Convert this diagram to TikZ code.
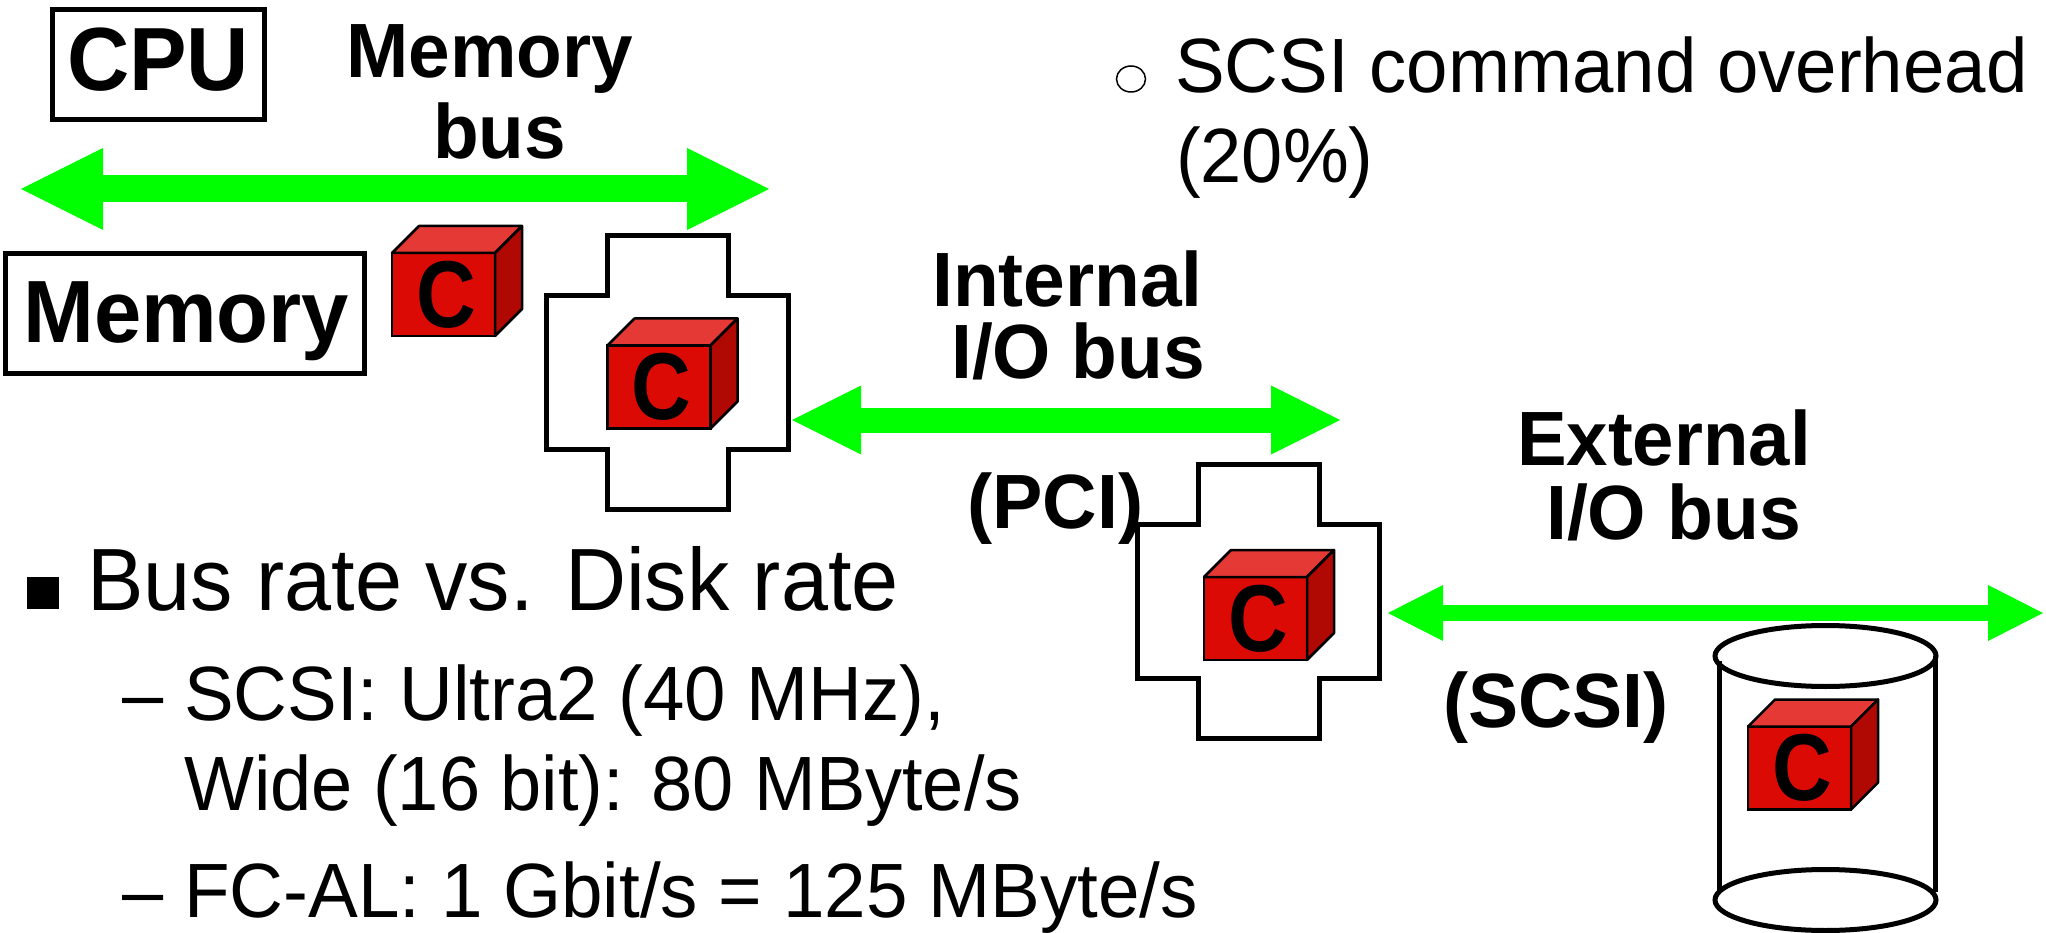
\documentclass[tikz,border=0pt]{standalone}
\usepackage{fontspec}
\setmainfont{Liberation Sans}[Kerning=Off]
\usetikzlibrary{positioning}
\usetikzlibrary{shapes.geometric}
\usetikzlibrary{arrows.meta}
\usetikzlibrary{calc}

\definecolor{cubeFront}{HTML}{DC0A05}
\definecolor{cubeTop}{HTML}{E53935}
\definecolor{cubeSide}{HTML}{B00803}
\definecolor{busGreen}{HTML}{00FF00}

\newcommand{\tall}[2][1]{\scalebox{#1}[1.04]{#2}}
\newcommand{\cubeletter}[1]{\hspace{5pt}\scalebox{.94}[1.08]{#1}}

\tikzset{
  boxed/.style={draw, line width=5pt, inner sep=0pt},
  outline/.style={draw, line width=5pt, line join=miter},
  cubeC/.style={draw, fill=cubeFront, line width=2.5pt, inner sep=0pt, outer sep=0pt,
                minimum width=103pt, minimum height=83pt,
                font=\fontsize{88}{88}\selectfont\bfseries},
  face/.style={draw, line width=2.5pt, line join=round},
  bold/.style={inner sep=0pt, anchor=base west, font=\fontsize{74}{74}\selectfont\bfseries},
  plain/.style={inner sep=0pt, anchor=base west, font=\fontsize{74}{74}\selectfont},
  bus/.style={draw=busGreen, line width=#1},
}

\begin{document}
\begin{tikzpicture}[x=1pt, y=-1pt]
  \useasboundingbox (0,0) rectangle (2046,933);

  \node[boxed, minimum width=212pt, minimum height=110pt](CPU) at (158,65) {};
  \node[bold, font=\fontsize{88}{88}\selectfont\bfseries](CPUTxt) at (67,91) {\scalebox{.98}[1.02]{CPU}};
  \node[boxed, minimum width=359pt, minimum height=120pt](Memory) at (185,313.5) {};
  \node[bold, font=\fontsize{85}{85}\selectfont\bfseries](MemoryTxt) at (23,342) {\tall{Memory}};

  \node[bold](MemLabA) at (346,78)  {\tall[1.01]{Memory}};
  \node[bold](MemLabB) at (433,159) {\tall[1.01]{bus}};
  \node[bold](IntLabA) at (932,307) {\tall[1.012]{Internal}};
  \node[bold](IntLabB) at (951,378) {\tall[1.012]{I/O bus}};
  \node[bold](PCI)     at (967,528) {\tall[1.02]{(PCI)}};
  \node[bold](ExtLabA) at (1517,465) {\tall[1.005]{External}};
  \node[bold](ExtLabB) at (1546,539) {\tall[1.015]{I/O bus}};
  \node[bold](SCSI)    at (1443,727) {\tall[1.015]{(SCSI)}};

  % buses
  \coordinate(MemBusL) at (21,189);
  \coordinate(MemBusR) at (769,189);
  \coordinate(IntBusL) at (792,420);
  \coordinate(IntBusR) at (1340,420);
  \coordinate(ExtBusL) at (1388,613);
  \coordinate(ExtBusR) at (2043,613);
  \draw[bus=27pt, {Triangle[length=82pt, width=82pt, line width=0pt]}-{Triangle[length=82pt, width=82pt, line width=0pt]}] (MemBusL) -- (MemBusR);
  \draw[bus=25pt, {Triangle[length=69pt, width=69pt, line width=0pt]}-{Triangle[length=69pt, width=69pt, line width=0pt]}] (IntBusL) -- (IntBusR);
  \draw[bus=16pt, {Triangle[length=55pt, width=56pt, line width=0pt]}-{Triangle[length=55pt, width=56pt, line width=0pt]}] (ExtBusL) -- (ExtBusR);

  % controllers
  \coordinate(IntCtrl) at (667.5,372.5);
  \coordinate(ExtCtrl) at (1258.5,601);
  \foreach \x in {IntCtrl,ExtCtrl} {
    \draw[outline] (\x) ++(-60.5,-137) -- ++(121,0) -- ++(0,60) -- ++(60.5,0) -- ++(0,154)
      -- ++(-60.5,0) -- ++(0,60) -- ++(-121,0) -- ++(0,-60) -- ++(-60.5,0) -- ++(0,-154)
      -- ++(60.5,0) -- cycle;
  }

  % disk
  \node[ellipse, draw, line width=5pt, minimum width=221pt, minimum height=61pt, inner sep=0pt, outer sep=0pt](DiskTop) at (1825.5,656) {};
  \node[ellipse, draw, line width=5pt, minimum width=221pt, minimum height=61pt, inner sep=0pt, outer sep=0pt](DiskBot) at (1825.5,900) {};
  \draw[line width=5pt] ([xshift=4pt, yshift=-5pt]DiskTop.west) -- ([xshift=4pt, yshift=10pt]DiskBot.west);
  \draw[line width=5pt] ([xshift=-1pt]DiskTop.east) -- ([xshift=-1pt, yshift=8pt]DiskBot.east);

  % caches
  \node[cubeC](C1) at (443.5,294.5) {\cubeletter{C}};
  \node[cubeC](C2) at (659,387)     {\cubeletter{C}};
  \node[cubeC](C3) at (1255.5,618.5) {\cubeletter{C}};
  \node[cubeC](C4) at (1799.5,768)  {\cubeletter{C}};
  \foreach \x in {C1,C2,C3,C4} {
    \draw[face, fill=cubeTop] (\x.north west) -- ([shift={(27,-27)}]\x.north west)
      -- ([shift={(27,-27)}]\x.north east) -- (\x.north east) -- cycle;
    \draw[face, fill=cubeSide] (\x.north east) -- ([shift={(27,-27)}]\x.north east)
      -- ([shift={(27,-27)}]\x.south east) -- (\x.south east) -- cycle;
  }

  % text
  \node[ellipse, draw, line width=1.5pt, minimum width=29pt, minimum height=26pt, inner sep=0pt](BulletA) at (1131,79) {};
  \node[plain](Overhead)  at (1175,93)  {\tall[1.006]{SCSI command overhead}};
  \node[plain](Percent)   at (1176,183) {\tall{(20\%)}};

  \node[fill=black, minimum width=32pt, minimum height=32pt, inner sep=0pt](BulletB) at (43,593) {};
  \node[plain, font=\fontsize{85}{85}\selectfont](Rate) at (87,610) {\tall[.995]{Bus rate vs. Disk rate}};
  \node[plain](DashA) at (122,720) {\tall{–}};
  \node[plain](Ultra) at (184,720) {\tall[1.006]{SCSI: Ultra2 (40 MHz),}};
  \node[plain](Wide)  at (184,810) {\tall{Wide (16 bit): 80 MByte/s}};
  \node[plain](DashB) at (122,917) {\tall{–}};
  \node[plain](FCAL)  at (184,917) {\tall[1.008]{FC-AL: 1 Gbit/s = 125 MByte/s}};
\end{tikzpicture}
\end{document}
